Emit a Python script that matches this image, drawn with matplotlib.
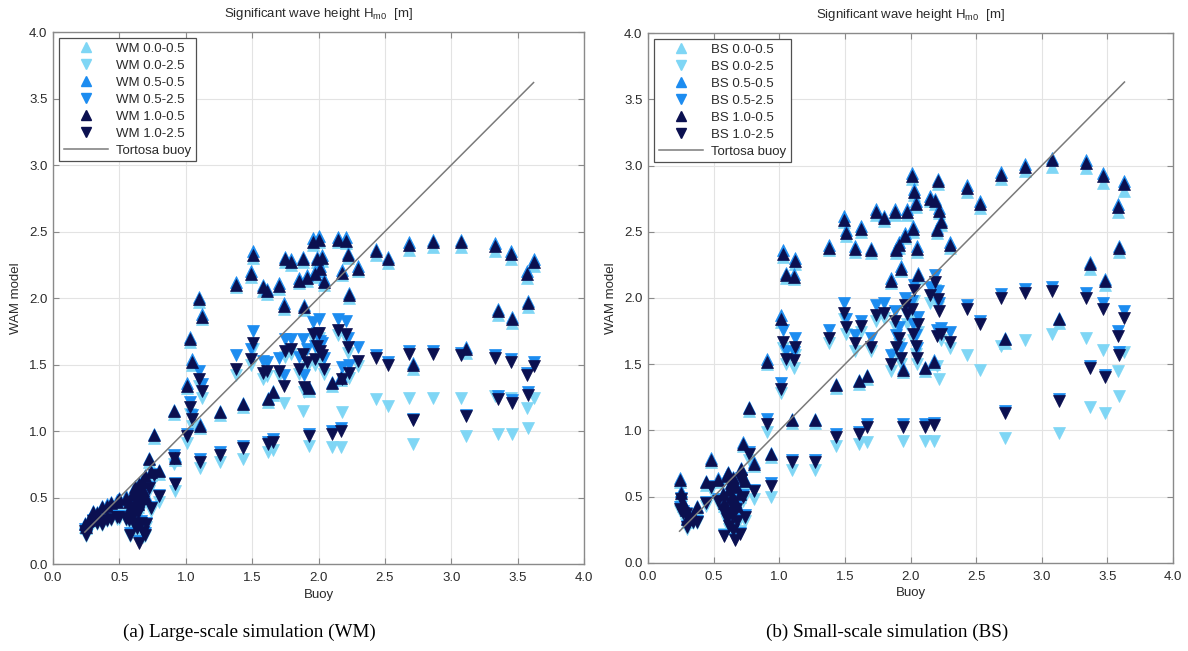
import numpy as np
import matplotlib
matplotlib.use("Agg")
import matplotlib.pyplot as plt
from matplotlib.lines import Line2D

plt.rcParams['font.family'] = ['Liberation Sans', 'DejaVu Sans']
plt.rcParams['mathtext.fontset'] = 'custom'
plt.rcParams['mathtext.rm'] = 'Liberation Sans'

# ---- WM run (large scale) ----
wm_buoy = [0.24, 0.25, 0.27, 0.30, 0.33, 0.37, 0.41, 0.44, 0.48, 0.50,
           0.55, 0.57, 0.58, 0.60, 0.61, 0.62, 0.63, 0.64, 0.65, 0.66,
           0.67, 0.68, 0.69, 0.70, 0.72, 0.74, 0.76, 0.80, 0.91, 0.92,
           1.01, 1.03, 1.05, 1.10, 1.11, 1.12, 1.26, 1.38, 1.43, 1.49,
           1.51, 1.58, 1.61, 1.62, 1.66, 1.70, 1.74, 1.75, 1.79, 1.85,
           1.88, 1.89, 1.91, 1.93, 1.96, 1.97, 1.99, 2.00, 2.01, 2.03,
           2.04, 2.10, 2.15, 2.17, 2.18, 2.21, 2.22, 2.23, 2.30, 2.43,
           2.52, 2.68, 2.71, 2.86, 3.07, 3.11, 3.33, 3.35, 3.45, 3.46,
           3.57, 3.58, 3.62]

wm_00_05 = [0.28, 0.27, 0.32, 0.37, 0.37, 0.42, 0.43, 0.45, 0.46, 0.48,
            0.49, 0.45, 0.40, 0.50, 0.53, 0.56, 0.47, 0.43, 0.58, 0.51,
            0.60, 0.54, 0.64, 0.48, 0.77, 0.67, 0.95, 0.68, 1.13, 0.78,
            1.32, 1.67, 1.50, 1.97, 1.02, 1.84, 1.12, 2.08, 1.18, 2.16,
            2.30, 2.05, 2.03, 1.22, 1.27, 2.07, 1.92, 2.27, 2.25, 2.11,
            2.27, 1.91, 2.13, 1.30, 2.40, 2.16, 2.27, 2.42, 2.20, 2.28,
            2.10, 1.34, 2.42, 1.38, 2.17, 2.41, 2.30, 2.00, 2.20, 2.32,
            2.26, 2.36, 1.47, 2.38, 2.38, 1.59, 2.35, 1.87, 2.29, 1.81,
            2.15, 1.93, 2.24]
wm_00_25 = [0.23, 0.21, 0.26, 0.31, 0.30, 0.29, 0.32, 0.33, 0.34, 0.34,
            0.33, 0.31, 0.21, 0.34, 0.28, 0.40, 0.25, 0.36, 0.18, 0.29,
            0.43, 0.20, 0.21, 0.28, 0.55, 0.40, 0.64, 0.47, 0.75, 0.55,
            0.91, 1.13, 1.04, 1.34, 0.72, 1.25, 0.77, 1.42, 0.79, 1.50,
            1.62, 1.39, 1.41, 0.84, 0.86, 1.41, 1.21, 1.56, 1.58, 1.43,
            1.15, 1.29, 1.48, 0.89, 1.69, 1.50, 1.60, 1.70, 1.56, 1.53,
            1.43, 0.88, 1.72, 0.88, 1.14, 1.69, 1.59, 1.40, 1.49, 1.24,
            1.19, 1.25, 0.90, 1.25, 1.25, 0.96, 1.26, 0.98, 1.25, 0.98,
            1.17, 1.02, 1.25]
wm_05_05 = [0.31, 0.29, 0.34, 0.40, 0.39, 0.44, 0.45, 0.47, 0.48, 0.50,
            0.51, 0.48, 0.43, 0.53, 0.56, 0.59, 0.50, 0.46, 0.61, 0.54,
            0.63, 0.57, 0.67, 0.51, 0.80, 0.70, 0.98, 0.71, 1.16, 0.81,
            1.36, 1.71, 1.54, 2.01, 1.05, 1.88, 1.15, 2.12, 1.21, 2.20,
            2.35, 2.10, 2.07, 1.25, 1.30, 2.11, 1.96, 2.31, 2.29, 2.15,
            2.31, 1.95, 2.17, 1.33, 2.45, 2.20, 2.31, 2.47, 2.24, 2.32,
            2.14, 1.37, 2.46, 1.41, 2.21, 2.46, 2.34, 2.04, 2.24, 2.37,
            2.31, 2.42, 1.51, 2.44, 2.44, 1.63, 2.41, 1.92, 2.35, 1.86,
            2.20, 1.98, 2.29]
wm_05_25 = [0.26, 0.23, 0.28, 0.33, 0.32, 0.31, 0.34, 0.35, 0.36, 0.36,
            0.35, 0.34, 0.23, 0.37, 0.31, 0.43, 0.28, 0.39, 0.17, 0.32,
            0.46, 0.25, 0.23, 0.31, 0.58, 0.43, 0.68, 0.52, 0.82, 0.61,
            0.98, 1.22, 1.12, 1.45, 0.79, 1.35, 0.84, 1.57, 0.89, 1.62,
            1.75, 1.53, 1.52, 0.92, 0.94, 1.55, 1.42, 1.69, 1.69, 1.56,
            1.69, 1.42, 1.62, 0.98, 1.82, 1.64, 1.74, 1.84, 1.68, 1.66,
            1.55, 1.00, 1.84, 1.02, 1.48, 1.83, 1.70, 1.50, 1.63, 1.57,
            1.52, 1.60, 1.09, 1.60, 1.59, 1.12, 1.57, 1.26, 1.54, 1.23,
            1.44, 1.29, 1.52]
wm_10_05 = [0.30, 0.28, 0.33, 0.39, 0.38, 0.43, 0.44, 0.46, 0.47, 0.49,
            0.50, 0.47, 0.42, 0.52, 0.55, 0.58, 0.49, 0.45, 0.60, 0.53,
            0.62, 0.56, 0.66, 0.50, 0.79, 0.69, 0.97, 0.70, 1.15, 0.80,
            1.34, 1.69, 1.52, 1.99, 1.04, 1.86, 1.14, 2.10, 1.20, 2.18,
            2.32, 2.08, 2.05, 1.24, 1.29, 2.09, 1.94, 2.29, 2.27, 2.13,
            2.29, 1.93, 2.15, 1.32, 2.42, 2.18, 2.29, 2.44, 2.22, 2.30,
            2.12, 1.36, 2.44, 1.40, 2.19, 2.43, 2.32, 2.02, 2.22, 2.35,
            2.29, 2.40, 1.50, 2.42, 2.42, 1.62, 2.39, 1.90, 2.33, 1.84,
            2.18, 1.96, 2.27]
wm_10_25 = [0.25, 0.22, 0.27, 0.32, 0.31, 0.30, 0.33, 0.34, 0.35, 0.35,
            0.34, 0.33, 0.22, 0.36, 0.30, 0.42, 0.27, 0.38, 0.16, 0.31,
            0.45, 0.24, 0.22, 0.30, 0.57, 0.42, 0.67, 0.51, 0.80, 0.60,
            0.96, 1.18, 1.09, 1.39, 0.77, 1.30, 0.82, 1.47, 0.87, 1.54,
            1.66, 1.44, 1.45, 0.90, 0.92, 1.45, 1.34, 1.60, 1.62, 1.47,
            1.58, 1.33, 1.52, 0.96, 1.73, 1.54, 1.64, 1.74, 1.60, 1.57,
            1.47, 0.98, 1.76, 1.00, 1.39, 1.73, 1.63, 1.44, 1.53, 1.55,
            1.50, 1.58, 1.08, 1.58, 1.57, 1.11, 1.55, 1.24, 1.52, 1.21,
            1.42, 1.27, 1.49]

# ---- BS run (small scale) ----
bs_buoy = [0.24, 0.25, 0.27, 0.29, 0.30, 0.34, 0.37, 0.44, 0.48, 0.53,
           0.57, 0.58, 0.60, 0.61, 0.62, 0.63, 0.64, 0.65, 0.66, 0.67,
           0.68, 0.70, 0.71, 0.72, 0.74, 0.77, 0.81, 0.91, 0.94, 1.01,
           1.03, 1.05, 1.10, 1.11, 1.12, 1.27, 1.38, 1.43, 1.49, 1.51,
           1.58, 1.61, 1.62, 1.67, 1.70, 1.74, 1.80, 1.85, 1.88, 1.89,
           1.91, 1.93, 1.94, 1.96, 1.97, 2.01, 2.02, 2.03, 2.04, 2.05,
           2.06, 2.11, 2.15, 2.18, 2.19, 2.20, 2.21, 2.22, 2.23, 2.30,
           2.43, 2.53, 2.69, 2.72, 2.87, 3.08, 3.13, 3.34, 3.37, 3.47,
           3.48, 3.58, 3.59, 3.63]

bs_00_05 = [0.61, 0.51, 0.43, 0.38, 0.31, 0.34, 0.40, 0.59, 0.76, 0.61,
            0.50, 0.43, 0.64, 0.66, 0.53, 0.58, 0.48, 0.62, 0.45, 0.55,
            0.41, 0.50, 0.69, 0.88, 0.60, 1.15, 0.73, 1.50, 0.80, 1.82,
            2.31, 2.15, 1.06, 2.14, 2.26, 1.06, 2.36, 1.32, 2.57, 2.47,
            2.35, 1.35, 2.50, 1.39, 2.34, 2.63, 2.58, 2.11, 2.63, 2.34,
            2.38, 2.20, 1.44, 2.45, 2.63, 2.90, 2.50, 2.78, 2.69, 2.35,
            2.15, 1.45, 2.73, 1.50, 2.71, 2.49, 2.86, 2.64, 2.55, 2.38,
            2.80, 2.68, 2.90, 1.66, 2.96, 2.99, 1.81, 2.98, 2.22, 2.87,
            2.10, 2.65, 2.35, 2.81]
bs_00_25 = [0.39, 0.46, 0.36, 0.35, 0.26, 0.30, 0.30, 0.43, 0.55, 0.45,
            0.38, 0.22, 0.31, 0.36, 0.26, 0.42, 0.33, 0.23, 0.19, 0.38,
            0.29, 0.24, 0.60, 0.47, 0.32, 0.78, 0.48, 0.99, 0.50, 1.28,
            1.62, 1.50, 0.70, 1.47, 1.57, 0.70, 1.66, 0.88, 1.84, 1.73,
            1.60, 0.90, 1.74, 0.91, 1.60, 1.83, 1.85, 1.45, 1.78, 1.58,
            1.65, 1.50, 0.92, 1.90, 1.80, 1.85, 1.68, 1.98, 1.58, 1.50,
            1.74, 0.92, 1.96, 0.92, 2.06, 1.49, 1.93, 1.39, 1.68, 1.62,
            1.57, 1.46, 1.64, 0.94, 1.68, 1.73, 0.98, 1.70, 1.18, 1.61,
            1.13, 1.45, 1.26, 1.59]
bs_05_05 = [0.64, 0.54, 0.46, 0.41, 0.34, 0.37, 0.43, 0.62, 0.79, 0.64,
            0.53, 0.46, 0.67, 0.69, 0.56, 0.61, 0.51, 0.65, 0.48, 0.58,
            0.44, 0.53, 0.72, 0.91, 0.63, 1.18, 0.76, 1.54, 0.83, 1.87,
            2.36, 2.19, 1.09, 2.18, 2.30, 1.09, 2.40, 1.35, 2.62, 2.51,
            2.39, 1.38, 2.54, 1.42, 2.38, 2.67, 2.62, 2.15, 2.67, 2.38,
            2.42, 2.24, 1.47, 2.49, 2.67, 2.94, 2.54, 2.82, 2.73, 2.39,
            2.19, 1.48, 2.77, 1.53, 2.75, 2.53, 2.90, 2.68, 2.59, 2.42,
            2.85, 2.73, 2.95, 1.70, 3.01, 3.06, 1.85, 3.04, 2.27, 2.94,
            2.14, 2.71, 2.39, 2.88]
bs_05_25 = [0.42, 0.49, 0.39, 0.38, 0.28, 0.32, 0.32, 0.46, 0.58, 0.48,
            0.41, 0.21, 0.34, 0.39, 0.29, 0.46, 0.37, 0.26, 0.18, 0.42,
            0.33, 0.23, 0.64, 0.51, 0.36, 0.84, 0.55, 1.09, 0.60, 1.36,
            1.76, 1.60, 0.78, 1.59, 1.70, 0.78, 1.76, 0.97, 1.96, 1.84,
            1.72, 0.99, 1.83, 1.05, 1.70, 1.95, 1.96, 1.57, 1.90, 1.72,
            1.78, 1.62, 1.05, 2.00, 1.94, 1.98, 1.80, 2.10, 1.72, 1.62,
            1.86, 1.05, 2.08, 1.06, 2.17, 1.76, 2.05, 1.96, 1.77, 1.74,
            1.95, 1.83, 2.03, 1.15, 2.07, 2.08, 1.24, 2.04, 1.49, 1.96,
            1.42, 1.75, 1.59, 1.90]
bs_10_05 = [0.63, 0.53, 0.45, 0.40, 0.33, 0.36, 0.42, 0.61, 0.78, 0.63,
            0.52, 0.45, 0.66, 0.68, 0.55, 0.60, 0.50, 0.64, 0.47, 0.57,
            0.43, 0.52, 0.71, 0.90, 0.62, 1.17, 0.75, 1.52, 0.82, 1.84,
            2.33, 2.17, 1.08, 2.16, 2.28, 1.08, 2.38, 1.34, 2.59, 2.49,
            2.37, 1.37, 2.52, 1.41, 2.36, 2.65, 2.60, 2.13, 2.65, 2.36,
            2.40, 2.22, 1.46, 2.47, 2.65, 2.92, 2.52, 2.80, 2.71, 2.37,
            2.17, 1.47, 2.75, 1.52, 2.73, 2.51, 2.88, 2.66, 2.57, 2.40,
            2.83, 2.71, 2.93, 1.69, 2.99, 3.04, 1.84, 3.02, 2.26, 2.92,
            2.13, 2.69, 2.38, 2.86]
bs_10_25 = [0.41, 0.48, 0.38, 0.37, 0.27, 0.31, 0.31, 0.45, 0.57, 0.47,
            0.40, 0.20, 0.33, 0.38, 0.28, 0.45, 0.36, 0.25, 0.17, 0.41,
            0.32, 0.22, 0.63, 0.50, 0.35, 0.82, 0.54, 1.05, 0.58, 1.31,
            1.67, 1.54, 0.76, 1.53, 1.63, 0.76, 1.70, 0.95, 1.89, 1.78,
            1.66, 0.97, 1.79, 1.03, 1.63, 1.87, 1.89, 1.50, 1.83, 1.63,
            1.70, 1.55, 1.03, 1.95, 1.88, 1.92, 1.73, 2.06, 1.64, 1.55,
            1.80, 1.03, 2.02, 1.04, 2.12, 1.71, 1.99, 1.90, 1.73, 1.67,
            1.92, 1.80, 2.00, 1.13, 2.04, 2.05, 1.22, 2.00, 1.47, 1.92,
            1.40, 1.71, 1.57, 1.85]

# legend tags and marker colours per parameter set
param_tags = ['0.0-0.5', '0.0-2.5', '0.5-0.5', '0.5-2.5', '1.0-0.5', '1.0-2.5']
c_light = '#7fd6f5'
c_mid = '#1c8cf0'
c_dark = '#0b1050'
styles = [(c_light, '^'), (c_light, 'v'), (c_mid, '^'),
          (c_mid, 'v'), (c_dark, '^'), (c_dark, 'v')]

grid_col = '#e3e3e3'
axis_col = '#8a8a8a'
txt_col = '#2a2a2a'


def draw_panel(ax, run, buoy, series):
    for (col, mk), tag, vals in zip(styles, param_tags, series):
        ax.plot(buoy, vals, linestyle='none', marker=mk, ms=8,
                mfc=col, mec=col, mew=0.5, label=run + ' ' + tag, zorder=3)
    # 1:1 reference of the buoy itself
    lo, hi = min(buoy), max(buoy)
    ax.plot([lo, hi], [lo, hi], color='#7a7a7a', lw=1.1,
            label='Tortosa buoy', zorder=4)

    ax.set_xlim(0, 4)
    ax.set_ylim(0, 4)
    ticks = np.arange(0, 4.01, 0.5)
    ax.set_xticks(ticks)
    ax.set_yticks(ticks)
    ax.set_xticklabels(['%.1f' % t for t in ticks])
    ax.set_yticklabels(['%.1f' % t for t in ticks])
    ax.grid(True, color=grid_col, lw=0.8)
    ax.set_axisbelow(True)
    ax.tick_params(direction='in', top=True, right=True, length=4,
                   width=0.8, color=axis_col, labelsize=9.5,
                   labelcolor=txt_col)
    ax.tick_params(axis='x', pad=6)
    ax.tick_params(axis='y', pad=4)
    for sp in ax.spines.values():
        sp.set_color(axis_col)
        sp.set_linewidth(1.0)

    ax.set_title('Significant wave height H$_{\\mathrm{m0}}$  [m]',
                 fontsize=9.5, color=txt_col, pad=11)
    ax.set_xlabel('Buoy', fontsize=9.5, color=txt_col, labelpad=3)
    ax.set_ylabel('WAM model', fontsize=9.5, color=txt_col, labelpad=5)

    handles = [Line2D([], [], linestyle='none', marker=mk, ms=7,
                      mfc=col, mec=col) for col, mk in styles]
    handles.append(Line2D([], [], color='#7a7a7a', lw=1.1))
    labels = [run + ' ' + t for t in param_tags] + ['Tortosa buoy']
    leg = ax.legend(handles, labels, loc='upper left', fontsize=9.5,
                    frameon=True, fancybox=False, framealpha=1,
                    edgecolor='#505050', handlelength=3.4,
                    handletextpad=0.6, labelspacing=0.36,
                    borderpad=0.35, borderaxespad=0.45)
    leg.get_frame().set_linewidth(0.9)
    for t in leg.get_texts():
        t.set_color(txt_col)


fig = plt.figure(figsize=(11.88, 6.51), dpi=100)
ax_a = fig.add_axes([0.0446, 0.1336, 0.4470, 0.8172])
ax_b = fig.add_axes([0.5455, 0.1352, 0.4419, 0.8141])

draw_panel(ax_a, 'WM', wm_buoy,
           [wm_00_05, wm_00_25, wm_05_05, wm_05_25, wm_10_05, wm_10_25])
draw_panel(ax_b, 'BS', bs_buoy,
           [bs_00_05, bs_00_25, bs_05_05, bs_05_25, bs_10_05, bs_10_25])

fig.text(0.2096, 0.029, '(a) Large-scale simulation (WM)',
         family='Liberation Serif', fontsize=13.8, ha='center', va='center')
fig.text(0.7466, 0.029, '(b) Small-scale simulation (BS)',
         family='Liberation Serif', fontsize=13.8, ha='center', va='center')

fig.savefig('out.png', dpi=100)
